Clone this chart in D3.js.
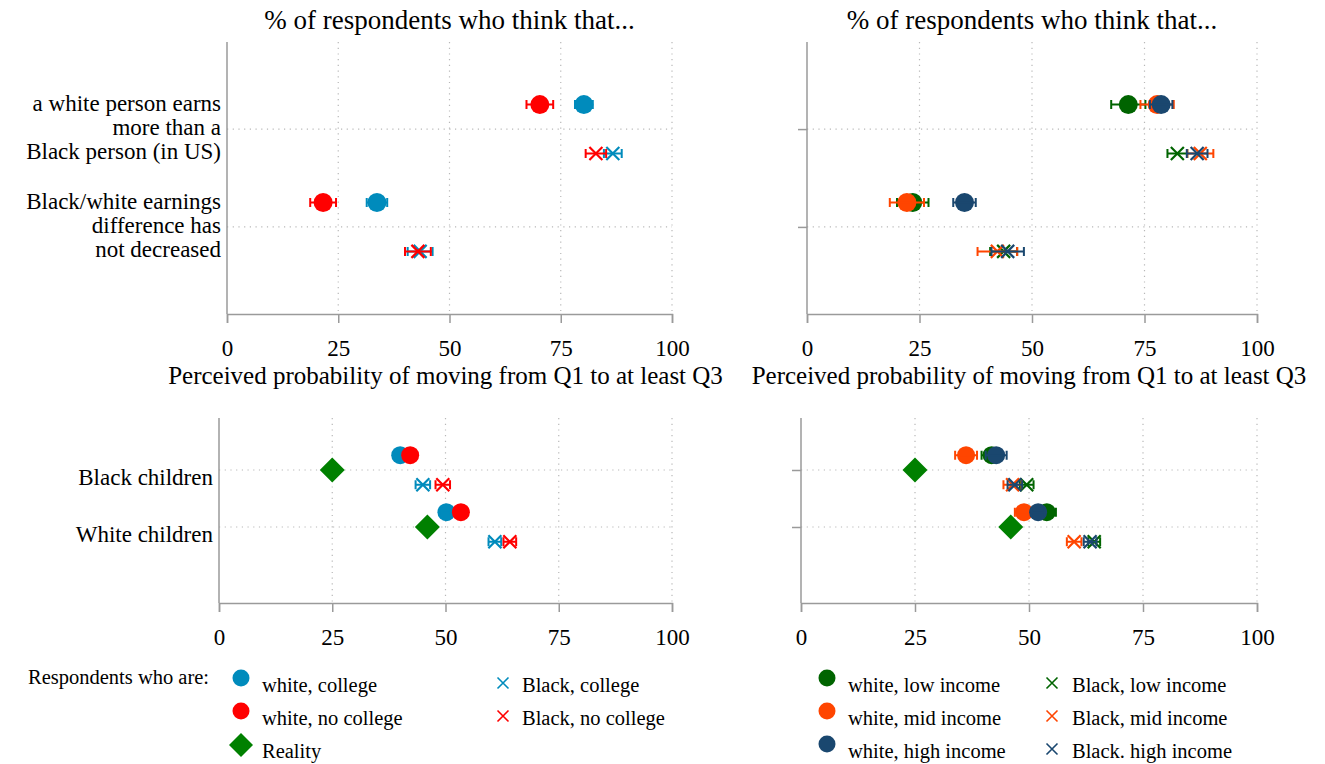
<!DOCTYPE html>
<html><head><meta charset="utf-8">
<script src="https://cdn.jsdelivr.net/npm/d3@7"></script>
<style>html,body{margin:0;padding:0;background:#fff}svg{display:block;font-family:"Liberation Serif","DejaVu Serif",serif}</style>
</head><body>
<svg id="chart" width="1325" height="764"></svg>
<script>
// ---------- data ----------
const xTicks = [0, 25, 50, 75, 100];
const topTitle = "% of respondents who think that...";
const bottomTitle = "Perceived probability of moving from Q1 to at least Q3";
const topCategories = [["a white person earns", "more than a", "Black person (in US)"],
                       ["Black/white earnings", "difference has", "not decreased"]];
const bottomCategories = ["Black children", "White children"];

// top-left (by education): estimate, CI half-width
const tlWhiteCollege = [80.2, 33.7],   tlWhiteCollegeCI = [2.0, 2.3];
const tlWhiteNoCollege = [70.3, 21.6], tlWhiteNoCollegeCI = [3.0, 2.9];
const tlBlackCollege = [86.7, 43.4],   tlBlackCollegeCI = [2.0, 2.8];
const tlBlackNoCollege = [82.9, 42.9], tlBlackNoCollegeCI = [2.3, 2.9];

// top-right (by income)
const trWhiteLow = [71.4, 23.5],  trWhiteLowCI = [3.8, 3.5];
const trWhiteMid = [77.8, 22.2],  trWhiteMidCI = [3.7, 3.8];
const trWhiteHigh = [78.7, 35.0], trWhiteHighCI = [2.5, 2.5];
const trBlackLow = [82.3, 43.7],  trBlackLowCI = [2.2, 3.0];
const trBlackMid = [87.4, 42.3],  trBlackMidCI = [2.9, 4.4];
const trBlackHigh = [86.7, 44.6], trBlackHighCI = [2.3, 3.6];

// bottom-left (by education)
const blWhiteCollege = [40.0, 50.2],   blWhiteCollegeCI = [1.0, 1.0];
const blWhiteNoCollege = [42.2, 53.4], blWhiteNoCollegeCI = [1.0, 1.0];
const blBlackCollege = [45.0, 60.9],   blBlackCollegeCI = [1.6, 1.4];
const blBlackNoCollege = [49.4, 64.2], blBlackNoCollegeCI = [1.6, 1.4];
const reality = [25, 46];

// bottom-right (by income)
const brWhiteLow = [41.8, 53.9],  brWhiteLowCI = [2.2, 2.0];
const brWhiteMid = [36.2, 48.9],  brWhiteMidCI = [2.4, 2.0];
const brWhiteHigh = [42.8, 52.0], brWhiteHighCI = [2.3, 1.5];
const brBlackLow = [49.5, 64.3],  brBlackLowCI = [1.5, 1.3];
const brBlackMid = [46.4, 59.9],  brBlackMidCI = [2.0, 1.6];
const brBlackHigh = [46.9, 63.4], brBlackHighCI = [1.6, 1.4];

// ---------- styles ----------
const C = {blue: "#008BBC", red: "#FF0000", green: "#008000",
           dkgreen: "#006400", orange: "#FF4500", navy: "#1A476F"};
const legendLeft = [
  {label: "white, college", color: C.blue, shape: "circle"},
  {label: "white, no college", color: C.red, shape: "circle"},
  {label: "Reality", color: C.green, shape: "diamond"},
  {label: "Black, college", color: C.blue, shape: "x"},
  {label: "Black, no college", color: C.red, shape: "x"}
];
const legendRight = [
  {label: "white, low income", color: C.dkgreen, shape: "circle"},
  {label: "white, mid income", color: C.orange, shape: "circle"},
  {label: "white, high income", color: C.navy, shape: "circle"},
  {label: "Black, low income", color: C.dkgreen, shape: "x"},
  {label: "Black, mid income", color: C.orange, shape: "x"},
  {label: "Black. high income", color: C.navy, shape: "x"}
];

const svg = d3.select("#chart");
const AX = "#9a9a9a", GRID = "#b8b8b8";

function drawPanel(p) {
  const x = d3.scaleLinear().domain([0, 100]).range(p.xr);
  const y = d3.scaleLinear().domain(p.yd).range(p.yr);
  const g = svg.append("g");
  // gridlines
  g.selectAll(".vg").data(xTicks.slice(1)).join("line")
    .attr("x1", d => x(d)).attr("x2", d => x(d)).attr("y1", p.yr[0]).attr("y2", p.yr[1])
    .attr("stroke", GRID).attr("stroke-width", 1.2).attr("stroke-dasharray", "1.2,4.5");
  g.selectAll(".hg").data([1, 2]).join("line")
    .attr("x1", p.xr[0]).attr("x2", p.xr[1]).attr("y1", d => y(d)).attr("y2", d => y(d))
    .attr("stroke", GRID).attr("stroke-width", 1.2).attr("stroke-dasharray", "1.2,4.5");
  // x axis
  const xa = g.append("g").attr("transform", `translate(0,${p.yr[1]})`)
    .call(d3.axisBottom(x).tickValues(xTicks).tickSize(9).tickPadding(17).tickFormat(d3.format("d")));
  xa.select(".domain").attr("stroke", AX).attr("stroke-width", 1.5);
  xa.selectAll(".tick line").attr("stroke", AX).attr("stroke-width", 1.5);
  xa.selectAll(".tick text").attr("font-size", 23).attr("fill", "#000")
    .attr("font-family", "Liberation Serif").attr("dy", "0.71em");
  // y axis
  const ya = g.append("g").attr("transform", `translate(${p.xr[0]},0)`)
    .call(d3.axisLeft(y).tickValues(p.labels ? [] : [1, 2]).tickSize(9).tickFormat(""));
  ya.select(".domain").attr("stroke", AX).attr("stroke-width", 1.5).attr("d", `M0,${p.yr[0]}V${p.yr[1]}`);
  ya.selectAll(".tick line").attr("stroke", AX).attr("stroke-width", 1.5);
  // category labels
  if (p.labels) {
    p.labels.forEach((lab, i) => {
      const lines = Array.isArray(lab) ? lab : [lab];
      const t = g.append("text").attr("text-anchor", "end").attr("font-size", 23).attr("fill", "#000");
      lines.forEach((ln, j) => {
        t.append("tspan").attr("x", p.xr[0] - 6)
          .attr("y", y(i + 1) + (lines.length === 1 ? 15 : -18 + 24 * j)).text(ln);
      });
    });
  }
  // title
  g.append("text").attr("x", (p.xr[0] + p.xr[1]) / 2).attr("y", p.titleY)
    .attr("text-anchor", "middle").attr("font-size", p.titleSize).attr("fill", "#000").text(p.title);
  // series
  p.series.forEach(s => {
    const pts = s.v.map((v, i) => ({v, ci: s.ci ? s.ci[i] : 0, yy: y(i + 1 + s.off)}));
    const sg = g.append("g");
    if (s.shape === "circle") {
      sg.selectAll("circle").data(pts).join("circle")
        .attr("cx", d => x(d.v)).attr("cy", d => d.yy).attr("r", p.r).attr("fill", s.color);
    } else if (s.shape === "x") {
      const h = 6.5;
      sg.selectAll("path.x").data(pts).join("path")
        .attr("d", d => { const cx = x(d.v), cy = d.yy;
          return `M${cx-h},${cy-h}L${cx+h},${cy+h}M${cx-h},${cy+h}L${cx+h},${cy-h}`; })
        .attr("stroke", s.color).attr("stroke-width", 2.2).attr("fill", "none");
    } else {
      const h = 12.5;
      sg.selectAll("path.d").data(pts).join("path")
        .attr("d", d => { const cx = x(d.v), cy = d.yy;
          return `M${cx},${cy-h}L${cx+h},${cy}L${cx},${cy+h}L${cx-h},${cy}Z`; })
        .attr("fill", s.color);
    }
    if (s.ci) {
      const c = 4.5;
      sg.selectAll("path.ci").data(pts).join("path")
        .attr("d", d => { const a = x(d.v - d.ci), b = x(d.v + d.ci), cy = d.yy;
          return `M${a},${cy}H${b}M${a},${cy-c}V${cy+c}M${b},${cy-c}V${cy+c}`; })
        .attr("stroke", s.color).attr("stroke-width", 2).attr("fill", "none");
    }
  });
}

const topYd = [0.11, 2.89], topYr = [42, 314];
const botYd = [0.088, 3.333], botYr = [418, 603];

drawPanel({xr: [227, 672], yd: topYd, yr: topYr, r: 9.5, labels: topCategories, title: topTitle, titleY: 29, titleSize: 27,
  series: [
    {v: tlWhiteCollege, ci: tlWhiteCollegeCI, color: C.blue, shape: "circle", off: -0.25},
    {v: tlWhiteNoCollege, ci: tlWhiteNoCollegeCI, color: C.red, shape: "circle", off: -0.25},
    {v: tlBlackCollege, ci: tlBlackCollegeCI, color: C.blue, shape: "x", off: 0.25},
    {v: tlBlackNoCollege, ci: tlBlackNoCollegeCI, color: C.red, shape: "x", off: 0.25}
  ]});
drawPanel({xr: [807, 1257], yd: topYd, yr: topYr, r: 9.5, labels: null, title: topTitle, titleY: 29, titleSize: 27,
  series: [
    {v: trWhiteLow, ci: trWhiteLowCI, color: C.dkgreen, shape: "circle", off: -0.25},
    {v: trWhiteMid, ci: trWhiteMidCI, color: C.orange, shape: "circle", off: -0.25},
    {v: trWhiteHigh, ci: trWhiteHighCI, color: C.navy, shape: "circle", off: -0.25},
    {v: trBlackLow, ci: trBlackLowCI, color: C.dkgreen, shape: "x", off: 0.25},
    {v: trBlackMid, ci: trBlackMidCI, color: C.orange, shape: "x", off: 0.25},
    {v: trBlackHigh, ci: trBlackHighCI, color: C.navy, shape: "x", off: 0.25}
  ]});
drawPanel({xr: [219, 672], yd: botYd, yr: botYr, r: 9, labels: bottomCategories, title: bottomTitle, titleY: 384, titleSize: 25,
  series: [
    {v: blWhiteCollege, ci: blWhiteCollegeCI, color: C.blue, shape: "circle", off: -0.26},
    {v: blWhiteNoCollege, ci: blWhiteNoCollegeCI, color: C.red, shape: "circle", off: -0.26},
    {v: blBlackCollege, ci: blBlackCollegeCI, color: C.blue, shape: "x", off: 0.26},
    {v: blBlackNoCollege, ci: blBlackNoCollegeCI, color: C.red, shape: "x", off: 0.26},
    {v: reality, ci: null, color: C.green, shape: "diamond", off: 0}
  ]});
drawPanel({xr: [801, 1257], yd: botYd, yr: botYr, r: 9, labels: null, title: bottomTitle, titleY: 384, titleSize: 25,
  series: [
    {v: brWhiteLow, ci: brWhiteLowCI, color: C.dkgreen, shape: "circle", off: -0.26},
    {v: brWhiteMid, ci: brWhiteMidCI, color: C.orange, shape: "circle", off: -0.26},
    {v: brWhiteHigh, ci: brWhiteHighCI, color: C.navy, shape: "circle", off: -0.26},
    {v: brBlackLow, ci: brBlackLowCI, color: C.dkgreen, shape: "x", off: 0.26},
    {v: brBlackMid, ci: brBlackMidCI, color: C.orange, shape: "x", off: 0.26},
    {v: brBlackHigh, ci: brBlackHighCI, color: C.navy, shape: "x", off: 0.26},
    {v: reality, ci: null, color: C.green, shape: "diamond", off: 0}
  ]});

// ---------- legends ----------
function legendMarker(g, item, cx, cy) {
  if (item.shape === "circle") {
    g.append("circle").attr("cx", cx).attr("cy", cy).attr("r", 8.5).attr("fill", item.color);
  } else if (item.shape === "x") {
    const h = 5.5;
    g.append("path").attr("d", `M${cx-h},${cy-h}L${cx+h},${cy+h}M${cx-h},${cy+h}L${cx+h},${cy-h}`)
      .attr("stroke", item.color).attr("stroke-width", 1.6).attr("fill", "none");
  } else {
    const h = 12;
    g.append("path").attr("d", `M${cx},${cy-h}L${cx+h},${cy}L${cx},${cy+h}L${cx-h},${cy}Z`).attr("fill", item.color);
  }
}
function drawLegend(cols, rowBase) {
  const g = svg.append("g");
  const ypos = i => rowBase + 33 * i;
  cols.forEach(col => {
    col.items.forEach((it, i) => {
      legendMarker(g, it, col.mx, ypos(i) - (it.shape === "x" ? 9 : it.shape === "diamond" ? 13 : 14));
      g.append("text").attr("x", col.tx).attr("y", ypos(i)).attr("font-size", 20.5).attr("fill", "#000").text(it.label);
    });
  });
}
svg.append("text").attr("x", 28).attr("y", 684).attr("font-size", 20.5).attr("fill", "#000").text("Respondents who are:");
drawLegend([
  {mx: 241, tx: 262, items: legendLeft.slice(0, 3)},
  {mx: 503, tx: 522, items: legendLeft.slice(3)}
], 692);
drawLegend([
  {mx: 827, tx: 848, items: legendRight.slice(0, 3)},
  {mx: 1052, tx: 1072, items: legendRight.slice(3)}
], 692);
</script>
</body></html>
